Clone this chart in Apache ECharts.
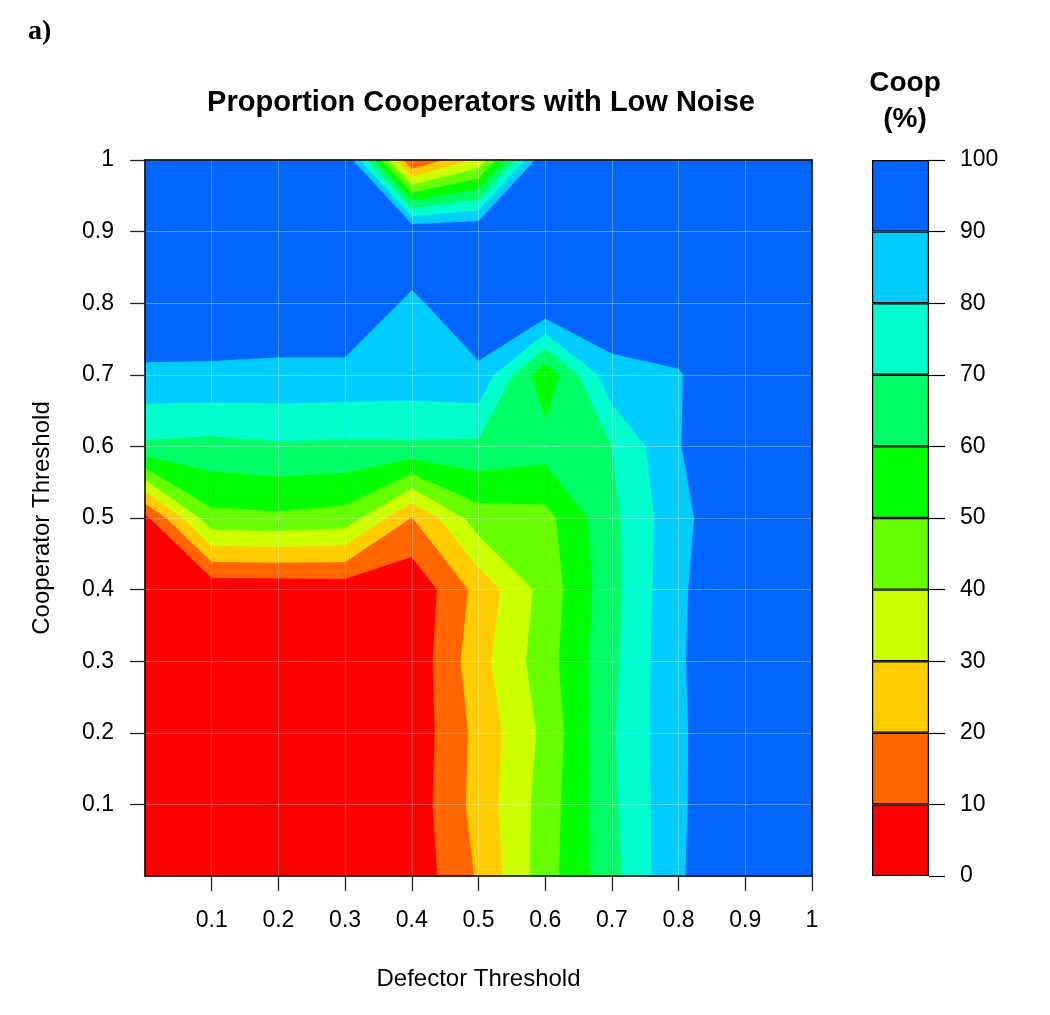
<!DOCTYPE html>
<html>
<head>
<meta charset="utf-8">
<script src="https://cdn.jsdelivr.net/npm/echarts@6/dist/echarts.min.js"></script>
<style>
html,body{margin:0;padding:0;background:#ffffff;}
#chart{width:1050px;height:1015px;}
</style>
</head>
<body>
<div id="chart"></div>
<script>
// Grid coordinates
const defectorThreshold = [0, 0.1, 0.2, 0.3, 0.4, 0.5, 0.6, 0.7, 0.8, 0.9, 1.0];
const cooperatorThreshold = [0, 0.1, 0.2, 0.3, 0.4, 0.5, 0.6, 0.7, 0.8, 0.9, 1.0];

// Proportion of cooperators (%) — one row per cooperator threshold, columns by defector threshold
const coopY00 = [1, 1, 1.5, 2, 2.9, 21.1, 45.5, 66.6, 88.9, 99, 99];
const coopY01 = [1, 1, 1.5, 2, 3.6, 23.7, 44.3, 67.9, 88.5, 99, 99];
const coopY02 = [1, 1, 1.5, 2, 3.0, 23.0, 42.5, 68.6, 88.4, 99, 99];
const coopY03 = [1, 1, 1.5, 2.5, 2.4, 26.2, 45.4, 67.5, 88.8, 99, 99];
const coopY04 = [1, 2.6, 2.6, 3.4, 1.8, 23.2, 43.7, 66.5, 88.5, 98.5, 99];
const coopY05 = [7, 47, 48, 46, 19.5, 45.3, 46.5, 67.4, 87, 99.5, 99.5];
const coopY06 = [68, 66.8, 68.6, 68, 68.3, 67.6, 64.3, 69.9, 89.5, 99.5, 99.5];
const coopY07 = [88, 88.1, 87.5, 87.2, 86.5, 88, 52.4, 86.9, 89.3, 99.3, 99.5];
const coopY08 = [99, 97.7, 97.5, 98.5, 87.9, 98, 100, 97.2, 97, 99, 99.5];
const coopY09 = [99, 99, 99, 99, 99, 99.4, 99, 99, 99, 99, 99.5];
const coopY10 = [100, 100, 100, 100, 8, 32, 100, 100, 100, 100, 100];
const coopGrid = [coopY00, coopY01, coopY02, coopY03, coopY04, coopY05, coopY06, coopY07, coopY08, coopY09, coopY10];

// Contour levels and band colours
const levels = [0, 10, 20, 30, 40, 50, 60, 70, 80, 90, 100];
const bandColors = ['#FF0000', '#FF6600', '#FFCC00', '#CCFF00', '#66FF00', '#00FF00', '#00FF66', '#00FFCC', '#00CCFF', '#0066FF'];

// Tick labels
const xTickValues = [0.1, 0.2, 0.3, 0.4, 0.5, 0.6, 0.7, 0.8, 0.9, 1];
const yTickValues = [0.1, 0.2, 0.3, 0.4, 0.5, 0.6, 0.7, 0.8, 0.9, 1];
const legendTickValues = [0, 10, 20, 30, 40, 50, 60, 70, 80, 90, 100];

const FONT = 'Liberation Sans, Arial, Helvetica, sans-serif';

// cells of the grid
const cells = [];
for (let j = 0; j < cooperatorThreshold.length - 1; j++) {
  for (let i = 0; i < defectorThreshold.length - 1; i++) {
    cells.push([defectorThreshold[i], cooperatorThreshold[j], i, j]);
  }
}

function bandPolygon(cx, cy, cv, lo, hi, last) {
  const inBand = v => v >= lo && (last ? v <= hi : v < hi);
  const pts = [];
  for (let k = 0; k < 4; k++) {
    const a = k, b = (k + 1) % 4;
    if (inBand(cv[a])) pts.push([cx[a], cy[a]]);
    const cr = [];
    [lo, hi].forEach(L => {
      if ((cv[a] - L) * (cv[b] - L) < 0) cr.push((L - cv[a]) / (cv[b] - cv[a]));
    });
    cr.sort((p, q) => p - q);
    cr.forEach(t => pts.push([cx[a] + t * (cx[b] - cx[a]), cy[a] + t * (cy[b] - cy[a])]));
  }
  return pts;
}

function renderCell(params, api) {
  const i = api.value(2), j = api.value(3);
  const xs = defectorThreshold, ys = cooperatorThreshold;
  const cx = [xs[i], xs[i + 1], xs[i + 1], xs[i]];
  const cy = [ys[j], ys[j], ys[j + 1], ys[j + 1]];
  const cv = [coopGrid[j][i], coopGrid[j][i + 1], coopGrid[j + 1][i + 1], coopGrid[j + 1][i]];
  const children = [];
  for (let b = 0; b < levels.length - 1; b++) {
    const pts = bandPolygon(cx, cy, cv, levels[b], levels[b + 1], b === levels.length - 2);
    if (pts.length >= 3) {
      children.push({
        type: 'polygon',
        shape: { points: pts.map(p => api.coord(p)) },
        style: { fill: bandColors[b], stroke: bandColors[b], lineWidth: 0.8 }
      });
    }
  }
  return { type: 'group', children: children };
}

const colorbarSeries = bandColors.map((c, b) => ({
  type: 'bar',
  xAxisIndex: 2,
  yAxisIndex: 2,
  stack: 'cb',
  barWidth: '100%',
  data: [levels[b + 1] - levels[b]],
  itemStyle: { color: c, borderColor: '#000', borderWidth: 1.2 },
  silent: true
}));

const chart = echarts.init(document.getElementById('chart'), null, { renderer: 'canvas' });

chart.setOption({
  animation: false,
  backgroundColor: '#ffffff',
  title: [
    {
      text: 'Proportion Cooperators with Low Noise',
      left: 476, top: 83, textAlign: 'center',
      textStyle: { fontFamily: FONT, fontWeight: 'bold', fontSize: 29, color: '#000' }
    },
    {
      text: 'Coop\n(%)',
      left: 900, top: 60, textAlign: 'center',
      textStyle: { fontFamily: FONT, fontWeight: 'bold', fontSize: 28, lineHeight: 36, color: '#000' }
    },
    {
      text: 'a)',
      left: 23, top: 13,
      textStyle: { fontFamily: 'Liberation Serif, Times New Roman, serif', fontWeight: 'bold', fontSize: 28, color: '#000' }
    }
  ],
  grid: [
    { left: 145, top: 160, width: 667, height: 716, containLabel: false },
    { left: 872, top: 160, width: 57, height: 716, containLabel: false }
  ],
  xAxis: [
    {
      gridIndex: 0, type: 'value', min: 0, max: 1, interval: 0.1, position: 'bottom', z: 5,
      name: 'Defector Threshold', nameLocation: 'middle', nameGap: 91,
      nameTextStyle: { fontFamily: FONT, fontSize: 24, color: '#000' },
      axisLine: { show: true, onZero: false, lineStyle: { color: '#000', width: 1.5 } },
      axisTick: { show: true, length: 15, customValues: xTickValues, lineStyle: { color: '#222', width: 1.3 } },
      axisLabel: { show: true, margin: 33, customValues: xTickValues, fontFamily: FONT, fontSize: 23, color: '#000',
        formatter: v => String(+v.toFixed(1)) },
      splitLine: { show: true, lineStyle: { color: 'rgba(255,255,255,0.3)', width: 1 } }
    },
    {
      gridIndex: 0, type: 'value', min: 0, max: 1, position: 'top', z: 5,
      axisLine: { show: true, onZero: false, lineStyle: { color: '#000', width: 1.5 } },
      axisTick: { show: false }, axisLabel: { show: false }, splitLine: { show: false }
    },
    {
      gridIndex: 1, type: 'category', data: ['Coop'], show: false
    }
  ],
  yAxis: [
    {
      gridIndex: 0, type: 'value', min: 0, max: 1, interval: 0.1, position: 'left', z: 5,
      name: 'Cooperator Threshold', nameLocation: 'middle', nameGap: 91, nameRotate: 90,
      nameTextStyle: { fontFamily: FONT, fontSize: 24, color: '#000' },
      axisLine: { show: true, onZero: false, lineStyle: { color: '#000', width: 1.5 } },
      axisTick: { show: true, length: 15, customValues: yTickValues, lineStyle: { color: '#222', width: 1.3 } },
      axisLabel: { show: true, margin: 31, customValues: yTickValues, fontFamily: FONT, fontSize: 23, color: '#000',
        formatter: v => String(+v.toFixed(1)) },
      splitLine: { show: true, lineStyle: { color: 'rgba(255,255,255,0.3)', width: 1 } }
    },
    {
      gridIndex: 0, type: 'value', min: 0, max: 1, position: 'right', z: 5,
      axisLine: { show: true, onZero: false, lineStyle: { color: '#000', width: 1.5 } },
      axisTick: { show: false }, axisLabel: { show: false }, splitLine: { show: false }
    },
    {
      gridIndex: 1, type: 'value', min: 0, max: 100, interval: 10, position: 'right',
      axisLine: { show: false },
      axisTick: { show: true, length: 16, customValues: legendTickValues, lineStyle: { color: '#000', width: 1.2 } },
      axisLabel: { show: true, margin: 31, customValues: legendTickValues, fontFamily: FONT, fontSize: 23, color: '#000' },
      splitLine: { show: false }
    }
  ],
  series: [
    {
      type: 'custom',
      xAxisIndex: 0, yAxisIndex: 0,
      renderItem: renderCell,
      encode: { x: 0, y: 1 },
      data: cells,
      silent: true,
      z: 2
    }
  ].concat(colorbarSeries)
});
</script>
</body>
</html>
